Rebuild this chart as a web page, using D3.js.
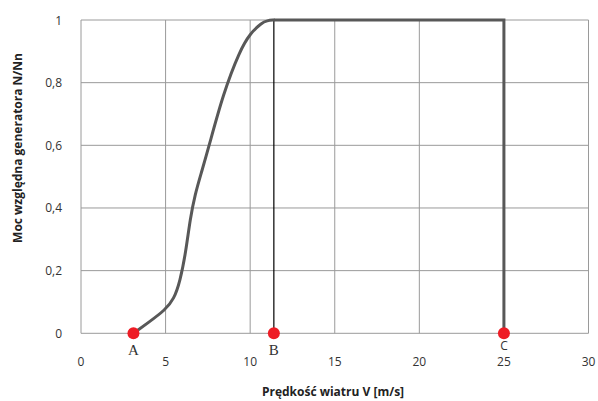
<!DOCTYPE html>
<html><head><meta charset="utf-8">
<script src="https://cdn.jsdelivr.net/npm/d3@7/dist/d3.min.js"></script>
<style>body{margin:0;background:#fff}</style></head>
<body><svg id="c" width="598" height="401"></svg>
<script>
// smooth rising part of the power curve (wind speed, relative power)
const riseV = [3.1, 4.0, 4.97, 5.5, 5.85, 6.2, 6.45, 6.75, 7.1, 7.53, 8.41, 9.4, 10.0, 10.68, 11.0, 11.4];
const riseP = [0, 0.035, 0.074, 0.11, 0.165, 0.26, 0.365, 0.445, 0.51, 0.59, 0.766, 0.904, 0.957, 0.991, 0.998, 1];
// rated part and cut-out
const flatV = [11.4, 25, 25];
const flatP = [1, 1, 0];
const pointNames = ["A", "B", "C"];
const pointV = [3.1, 11.4, 25];
const xTicks = [0, 5, 10, 15, 20, 25, 30];
const yTicks = [0, 0.2, 0.4, 0.6, 0.8, 1];
const xTitle = "Prędkość wiatru V [m/s]";
const yTitle = "Moc względna generatora N/Nn";

const svg = d3.select("#c");
const x = d3.scaleLinear().domain([0, 30]).range([81, 588.5]);
const y = d3.scaleLinear().domain([0, 1]).range([333.3, 20]);

const grid = svg.append("g");
grid.selectAll("line.v").data(xTicks).join("line")
  .attr("x1", d => x(d)).attr("x2", d => x(d)).attr("y1", y(0)).attr("y2", y(1))
  .attr("stroke", "#9a9a9a").attr("stroke-width", 1);
grid.selectAll("line.h").data(yTicks).join("line")
  .attr("x1", x(0)).attr("x2", x(30)).attr("y1", d => y(d)).attr("y2", d => y(d))
  .attr("stroke", "#9a9a9a").attr("stroke-width", 1);

const fs = "'Open Sans', 'DejaVu Sans', sans-serif";
svg.append("g").selectAll("text").data(yTicks).join("text")
  .attr("x", 62).attr("y", d => y(d) + 4.5).attr("text-anchor", "end")
  .attr("font-family", fs).attr("font-size", 12).attr("fill", "#333")
  .text(d => String(d).replace(".", ","));
svg.append("g").selectAll("text").data(xTicks).join("text")
  .attr("x", d => x(d)).attr("y", 366).attr("text-anchor", "middle")
  .attr("font-family", fs).attr("font-size", 12).attr("fill", "#333")
  .text(d => d);

// vertical thin line at B
svg.append("line").attr("x1", x(pointV[1])).attr("x2", x(pointV[1]))
  .attr("y1", y(0)).attr("y2", y(1)).attr("stroke", "#000").attr("stroke-width", 1.2);

svg.append("path")
  .attr("d", d3.line().x((d, i) => x(riseV[i])).y(d => y(d)).curve(d3.curveBasis)(riseP))
  .attr("fill", "none").attr("stroke", "#585858").attr("stroke-width", 3).attr("stroke-linecap", "round");
svg.append("path")
  .attr("d", d3.line().x((d, i) => x(flatV[i])).y(d => y(d))(flatP))
  .attr("fill", "none").attr("stroke", "#585858").attr("stroke-width", 3);

svg.append("g").selectAll("circle").data(pointV).join("circle")
  .attr("cx", d => x(d)).attr("cy", y(0)).attr("r", 6).attr("fill", "#ee1c25");
svg.append("g").selectAll("text").data(pointNames).join("text")
  .attr("x", (d, i) => x(pointV[i])).attr("y", (d, i) => i === 2 ? 350 : 355).attr("text-anchor", "middle")
  .attr("font-family", (d, i) => i === 2 ? fs : "'Liberation Serif', 'DejaVu Serif', serif")
  .attr("font-size", (d, i) => i === 2 ? 12 : 15).attr("fill", "#333")
  .text(d => d);

svg.append("text").attr("x", 333).attr("y", 396).attr("text-anchor", "middle")
  .attr("font-family", fs).attr("font-size", 12).attr("font-weight", "bold").attr("fill", "#222")
  .text(xTitle);
svg.append("text").attr("transform", "translate(22,148) rotate(-90)").attr("text-anchor", "middle")
  .attr("font-family", fs).attr("font-size", 12).attr("font-weight", "bold").attr("fill", "#222")
  .text(yTitle);
</script></body></html>
